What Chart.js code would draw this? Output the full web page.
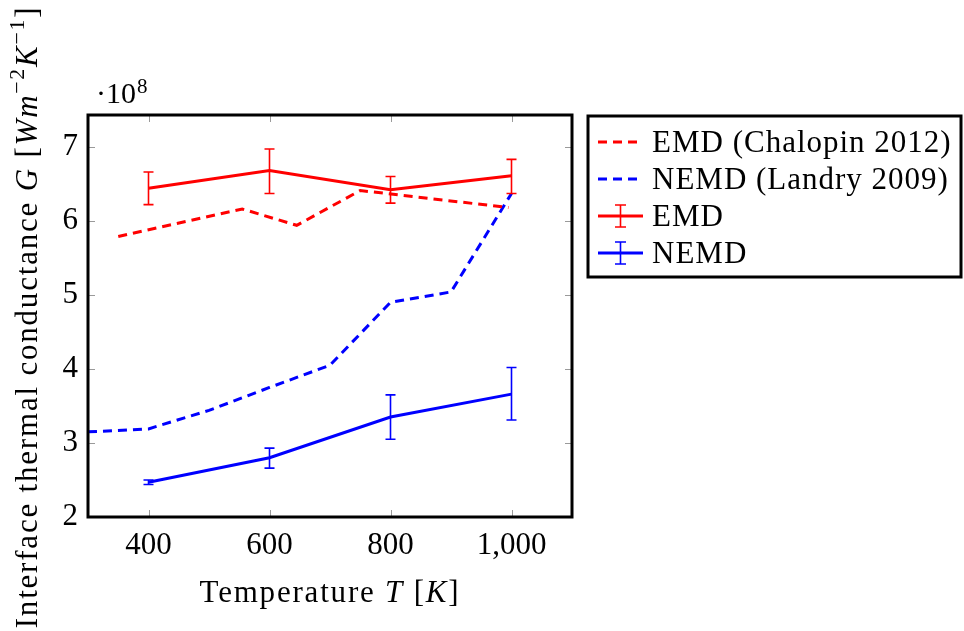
<!DOCTYPE html>
<html>
<head>
<meta charset="utf-8">
<script src="https://cdn.jsdelivr.net/npm/chart.js@4"></script>
<style>
  html, body { margin: 0; padding: 0; background: #fff; }
</style>
</head>
<body>
<canvas id="c" width="964" height="631"></canvas>
<script>
// simulated points with error bars
const temps = [400, 600, 800, 1000];
const emdG = [6.44, 6.68, 6.42, 6.61];
const emdLo = [6.22, 6.37, 6.24, 6.37];
const emdHi = [6.66, 6.97, 6.60, 6.83];
const nemdG = [2.47, 2.80, 3.35, 3.66];
const nemdLo = [2.44, 2.66, 3.05, 3.31];
const nemdHi = [2.50, 2.93, 3.65, 4.02];

// literature curves
const chalopinT = [350, 555, 645, 750, 995];
const chalopinG = [5.79, 6.16, 5.94, 6.41, 6.18];
const landryT = [300, 400, 500, 600, 700, 800, 900, 1000];
const landryG = [3.15, 3.19, 3.44, 3.75, 4.05, 4.90, 5.04, 6.37];

const xTicks = [400, 600, 800, 1000];
const yTicks = [2, 3, 4, 5, 6, 7];

const FONT = '"Liberation Serif", "Times New Roman", serif';
const RED = '#ff0000';
const BLUE = '#0000ff';

function pts(xs, ys) {
  return xs.map((x, i) => ({x: x, y: ys[i]}));
}

// text made of pieces: [text, italic, superscript]
function setFont(ctx, s, size) {
  ctx.font = (s[1] ? 'italic ' : '') + (s[2] ? size * 0.7 : size) + 'px ' + FONT;
}
function drawRich(ctx, segs, cx, y, size, sp) {
  ctx.letterSpacing = sp + 'px';
  let w = 0;
  segs.forEach(s => { setFont(ctx, s, size); w += ctx.measureText(s[0]).width; });
  let x = cx - w / 2;
  ctx.textAlign = 'left';
  ctx.textBaseline = 'alphabetic';
  segs.forEach(s => {
    setFont(ctx, s, size);
    ctx.fillText(s[0], x, s[2] ? y - size * 0.42 : y);
    x += ctx.measureText(s[0]).width;
  });
  ctx.letterSpacing = '0px';
}

const decor = {
  id: 'decor',
  afterDatasetsDraw(chart) {
    const ctx = chart.ctx;
    const xs = chart.scales.x, ys = chart.scales.y;
    const bars = [[emdLo, emdHi, RED], [nemdLo, nemdHi, BLUE]];
    ctx.save();
    ctx.lineWidth = 1.6;
    bars.forEach(b => {
      ctx.strokeStyle = b[2];
      temps.forEach((t, i) => {
        const px = xs.getPixelForValue(t);
        const y1 = ys.getPixelForValue(b[0][i]);
        const y2 = ys.getPixelForValue(b[1][i]);
        ctx.beginPath();
        ctx.moveTo(px, y1); ctx.lineTo(px, y2);
        ctx.moveTo(px - 5, y1); ctx.lineTo(px + 5, y1);
        ctx.moveTo(px - 5, y2); ctx.lineTo(px + 5, y2);
        ctx.stroke();
      });
    });
    ctx.restore();
  },
  afterDraw(chart) {
    const ctx = chart.ctx;
    const a = chart.chartArea;
    const xs = chart.scales.x, ys = chart.scales.y;
    ctx.save();

    // inward ticks on all four sides
    ctx.strokeStyle = '#9a9a9a';
    ctx.lineWidth = 1;
    ctx.beginPath();
    xTicks.forEach(v => {
      const px = Math.round(xs.getPixelForValue(v)) + 0.5;
      ctx.moveTo(px, a.top); ctx.lineTo(px, a.top + 7);
      ctx.moveTo(px, a.bottom); ctx.lineTo(px, a.bottom - 7);
    });
    yTicks.forEach(v => {
      const py = Math.round(ys.getPixelForValue(v)) + 0.5;
      ctx.moveTo(a.left, py); ctx.lineTo(a.left + 7, py);
      ctx.moveTo(a.right, py); ctx.lineTo(a.right - 7, py);
    });
    ctx.stroke();

    // frame
    ctx.strokeStyle = '#000';
    ctx.lineWidth = 3;
    ctx.strokeRect(a.left, a.top, a.right - a.left, a.bottom - a.top);

    // exponent marker
    ctx.fillStyle = '#000';
    ctx.textAlign = 'left';
    ctx.textBaseline = 'alphabetic';
    ctx.font = '30px ' + FONT;
    ctx.fillText('\u00b710', 96, 103);
    const w = ctx.measureText('\u00b710').width;
    ctx.font = '21px ' + FONT;
    ctx.fillText('8', 96 + w + 1, 93);

    // axis titles
    drawRich(ctx, [['Temperature ', false], ['T', true], [' [', false], ['K', true], [']', false]],
      (a.left + a.right) / 2, 602, 31, 1.8);
    ctx.save();
    ctx.translate(37, 317);
    ctx.rotate(-Math.PI / 2);
    drawRich(ctx, [['Interface thermal conductance ', false], ['G', true], [' [', false],
      ['Wm', true], ['\u22122', false, true], ['K', true], ['\u22121', false, true], [']', false]], 0, 0, 31, 1.8);
    ctx.restore();

    // legend
    const lx = 588, ly = 116, lw = 373, lh = 161;
    ctx.fillStyle = '#fff';
    ctx.fillRect(lx, ly, lw, lh);
    ctx.strokeStyle = '#000';
    ctx.lineWidth = 3;
    ctx.strokeRect(lx, ly, lw, lh);
    chart.data.datasets.forEach((ds, i) => {
      const cy = 142 + i * 37;
      ctx.strokeStyle = ds.borderColor;
      ctx.lineWidth = 3;
      ctx.setLineDash(ds.borderDash || []);
      ctx.beginPath();
      ctx.moveTo(598, cy); ctx.lineTo(643, cy);
      ctx.stroke();
      ctx.setLineDash([]);
      if (!ds.borderDash) {
        ctx.lineWidth = 1.6;
        ctx.beginPath();
        ctx.moveTo(620.5, cy - 11); ctx.lineTo(620.5, cy + 11);
        ctx.moveTo(615, cy - 11); ctx.lineTo(626, cy - 11);
        ctx.moveTo(615, cy + 11); ctx.lineTo(626, cy + 11);
        ctx.stroke();
      }
      ctx.fillStyle = '#000';
      ctx.font = '31px ' + FONT;
      ctx.letterSpacing = '1px';
      ctx.textAlign = 'left';
      ctx.textBaseline = 'alphabetic';
      ctx.fillText(ds.label, 652, cy + 10);
      ctx.letterSpacing = '0px';
    });
    ctx.restore();
  }
};

new Chart(document.getElementById('c'), {
  type: 'line',
  data: {
    datasets: [
      {label: 'EMD (Chalopin 2012)', data: pts(chalopinT, chalopinG), borderColor: RED, borderDash: [9, 6]},
      {label: 'NEMD (Landry 2009)', data: pts(landryT, landryG), borderColor: BLUE, borderDash: [9, 6]},
      {label: 'EMD', data: pts(temps, emdG), borderColor: RED},
      {label: 'NEMD', data: pts(temps, nemdG), borderColor: BLUE}
    ].map(d => Object.assign({borderWidth: 3, pointRadius: 0, tension: 0, fill: false}, d))
  },
  options: {
    responsive: false,
    animation: false,
    devicePixelRatio: 1,
    layout: {padding: {left: 0, right: 392, top: 115, bottom: 0}},
    plugins: {legend: {display: false}, tooltip: {enabled: false}},
    scales: {
      x: {
        type: 'linear', min: 300, max: 1100,
        afterBuildTicks: s => { s.ticks = xTicks.map(v => ({value: v})); },
        afterFit: s => { s.height = 114; },
        grid: {display: false, drawTicks: false},
        border: {display: false},
        ticks: {
          padding: 10, color: '#000', font: {family: FONT, size: 31},
          callback: v => v.toLocaleString('en-US')
        }
      },
      y: {
        type: 'linear', min: 2, max: 7.43,
        afterBuildTicks: s => { s.ticks = yTicks.map(v => ({value: v})); },
        afterFit: s => { s.width = 88; },
        grid: {display: false, drawTicks: false},
        border: {display: false},
        ticks: {padding: 10, color: '#000', font: {family: FONT, size: 31}}
      }
    }
  },
  plugins: [decor]
});
</script>
</body>
</html>
